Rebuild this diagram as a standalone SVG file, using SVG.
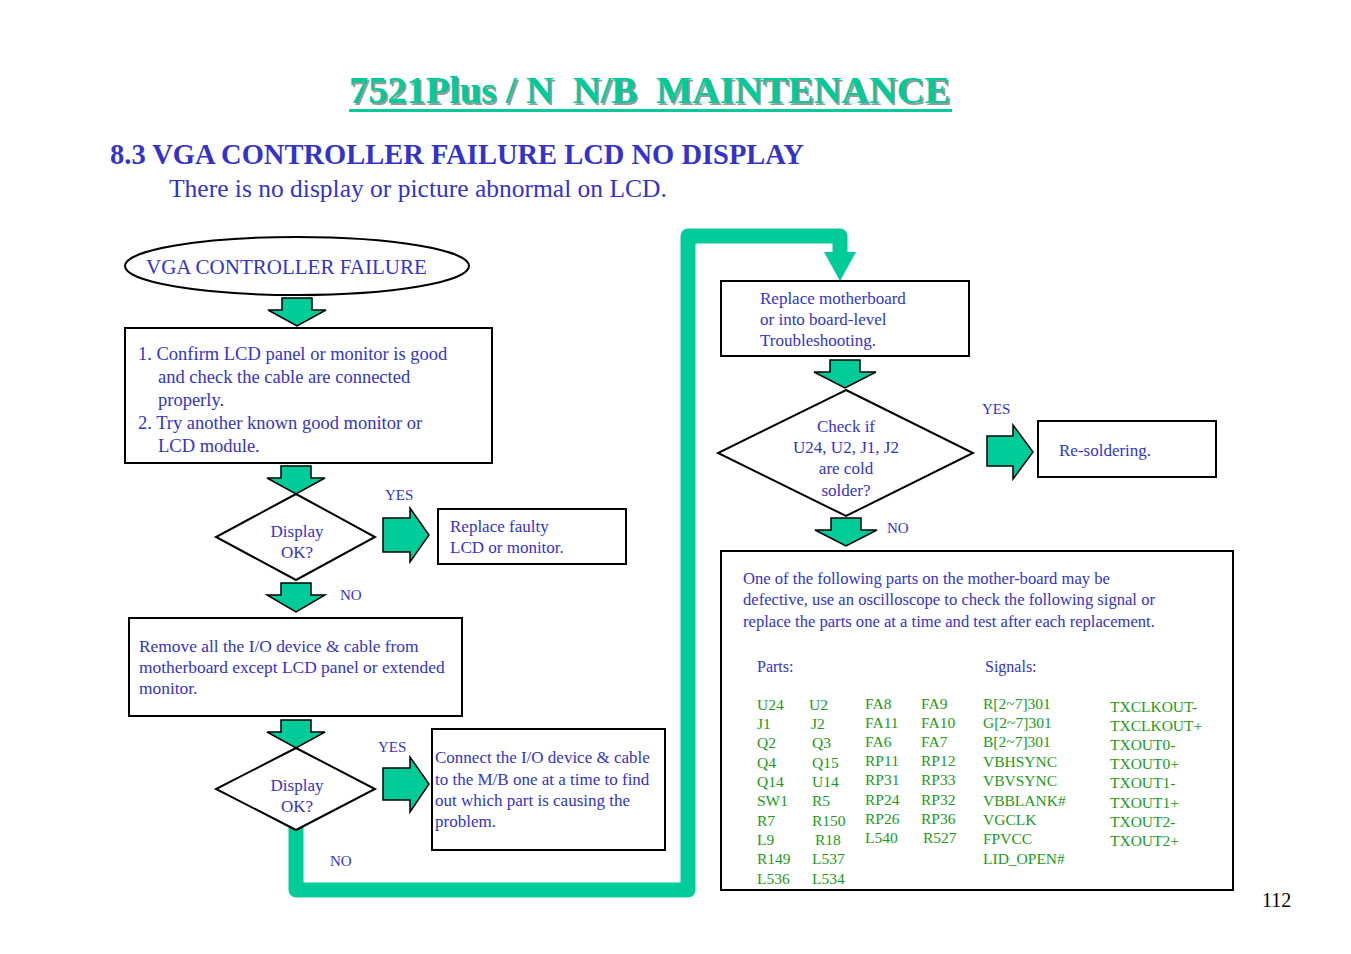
<svg xmlns="http://www.w3.org/2000/svg" width="1351" height="954" viewBox="0 0 1351 954">
<style>
text{font-family:"Liberation Serif","Times New Roman",serif;fill:#3333cc}
.t{font-size:17px}
.s{font-size:15px}
.g{font-size:15.5px;fill:#1a9a1a}
.box{fill:#fff;stroke:#000;stroke-width:2}
.ar{fill:#00cc99;stroke:#000;stroke-width:1.5}
</style>
<rect width="1351" height="954" fill="#fff"/>
<text x="351" y="105" textLength="601" lengthAdjust="spacingAndGlyphs" style="font-size:38px;font-weight:bold;fill:#999;white-space:pre" xml:space="preserve">7521Plus / N  N/B  MAINTENANCE</text>
<text x="349" y="103" textLength="601" lengthAdjust="spacingAndGlyphs" style="font-size:38px;font-weight:bold;fill:#00cc99;white-space:pre" xml:space="preserve">7521Plus / N  N/B  MAINTENANCE</text>
<rect x="349" y="109" width="603" height="3" fill="#00cc99"/>
<text x="110" y="164" style="font-size:28.5px;font-weight:bold">8.3 VGA CONTROLLER FAILURE LCD NO DISPLAY</text>
<text x="169" y="197" style="font-size:25.5px">There is no display or picture abnormal on LCD.</text>
<text x="1262" y="907" style="font-size:20px;fill:#000">112</text>
<g id="connectors">
<path d="M296 826 V890 H688 V236 H840 V258" fill="none" stroke="#00cc99" stroke-width="15" stroke-linejoin="round"/>
<polygon points="824,252 856,252 840,281" fill="#00cc99"/>
</g>
<g id="start"><ellipse cx="297" cy="266" rx="172" ry="29" class="box"/><text x="146" y="274" style="font-size:21px">VGA CONTROLLER FAILURE</text></g>
<g id="a1"><polygon class="ar" points="282,298 312,298 312,310 326,310 297,326 268,310 282,310"/></g>
<g id="step1"><rect x="125" y="328" width="367" height="135" class="box"/>
<text style="font-size:18.5px"><tspan x="138" y="360">1. Confirm LCD panel or monitor is good</tspan><tspan x="158" y="383">and check the cable are connected</tspan><tspan x="158" y="406">properly.</tspan><tspan x="138" y="429">2. Try another known good monitor or</tspan><tspan x="158" y="452">LCD module.</tspan></text></g>
<g id="a2"><polygon class="ar" points="281,466 311,466 311,478 325,478 296,494 267,478 281,478"/></g>
<g id="d1"><polygon points="296,494 375,537 296,580 216,537" class="box"/><text class="t" text-anchor="middle"><tspan x="297" y="537">Display</tspan><tspan x="297" y="558">OK?</tspan></text></g>
<text x="385" y="500" class="s">YES</text>
<g id="a3"><polygon class="ar" points="383,518 410,518 410,508 429,535 410,562 410,552 383,552"/></g>
<g id="r1"><rect x="438" y="509" width="188" height="55" class="box"/><text class="t"><tspan x="450" y="532">Replace faulty</tspan><tspan x="450" y="553">LCD or monitor.</tspan></text></g>
<g id="a4"><polygon class="ar" points="281,583 311,583 311,595 325,595 296,612 267,595 281,595"/></g>
<text x="340" y="600" class="s">NO</text>
<g id="step2"><rect x="129" y="618" width="333" height="98" class="box"/>
<text style="font-size:17.4px"><tspan x="139" y="652">Remove all the I/O device &amp; cable from</tspan><tspan x="139" y="673">motherboard except LCD panel or extended</tspan><tspan x="139" y="694">monitor.</tspan></text></g>
<g id="a5"><polygon class="ar" points="281,720 311,720 311,732 325,732 296,748 267,732 281,732"/></g>
<g id="d2"><polygon points="296,748 375,789 296,830 216,789" class="box"/><text class="t" text-anchor="middle"><tspan x="297" y="791">Display</tspan><tspan x="297" y="812">OK?</tspan></text></g>
<text x="378" y="752" class="s">YES</text>
<text x="330" y="866" class="s">NO</text>
<g id="a6"><polygon class="ar" points="383,768 410,768 410,757 429,784 410,812 410,800 383,800"/></g>
<g id="r2"><rect x="432" y="729" width="233" height="121" class="box"/>
<text class="t"><tspan x="435" y="763">Connect the I/O device &amp; cable</tspan><tspan x="435" y="785">to the M/B one at a time to find</tspan><tspan x="435" y="806">out which part is causing the</tspan><tspan x="435" y="827">problem.</tspan></text></g>
<g id="step3"><rect x="721" y="281" width="248" height="75" class="box"/>
<text class="t"><tspan x="760" y="304">Replace motherboard</tspan><tspan x="760" y="325">or into board-level</tspan><tspan x="760" y="346">Troubleshooting.</tspan></text></g>
<g id="a7"><polygon class="ar" points="830,360 860,360 860,372 876,372 845,388 814,372 830,372"/></g>
<g id="d3"><polygon points="846,390 973,453 846,516 718,453" class="box"/>
<text class="t" text-anchor="middle"><tspan x="846" y="432">Check if</tspan><tspan x="846" y="453">U24, U2, J1, J2</tspan><tspan x="846" y="474">are cold</tspan><tspan x="846" y="496">solder?</tspan></text></g>
<text x="982" y="414" class="s">YES</text>
<g id="a8"><polygon class="ar" points="987,436 1013,436 1013,425 1033,452 1013,479 1013,466 987,466"/></g>
<g id="r3"><rect x="1038" y="421" width="178" height="56" class="box"/><text x="1059" y="456" class="t">Re-soldering.</text></g>
<g id="a9"><polygon class="ar" points="831,518 861,518 861,530 877,530 846,546 815,530 831,530"/></g>
<text x="887" y="533" class="s">NO</text>
<g id="step4"><rect x="721" y="551" width="512" height="339" class="box"/>
<text style="font-size:16.6px"><tspan x="743" y="584">One of the following parts on the mother-board may be</tspan><tspan x="743" y="605">defective, use an oscilloscope to check the following signal or</tspan><tspan x="743" y="627">replace the parts one at a time and test after each replacement.</tspan></text>
<text x="757" y="672" style="font-size:16px">Parts:</text><text x="985" y="672" style="font-size:16px">Signals:</text>
<text class="g"><tspan x="757" y="710">U24</tspan><tspan x="757" y="729">J1</tspan><tspan x="757" y="748">Q2</tspan><tspan x="757" y="768">Q4</tspan><tspan x="757" y="787">Q14</tspan><tspan x="757" y="806">SW1</tspan><tspan x="757" y="826">R7</tspan><tspan x="757" y="845">L9</tspan><tspan x="757" y="864">R149</tspan><tspan x="757" y="884">L536</tspan></text>
<text class="g"><tspan x="809" y="710">U2</tspan><tspan x="811" y="729">J2</tspan><tspan x="812" y="748">Q3</tspan><tspan x="812" y="768">Q15</tspan><tspan x="812" y="787">U14</tspan><tspan x="812" y="806">R5</tspan><tspan x="812" y="826">R150</tspan><tspan x="815" y="845">R18</tspan><tspan x="812" y="864">L537</tspan><tspan x="812" y="884">L534</tspan></text>
<text class="g"><tspan x="865" y="709">FA8</tspan><tspan x="865" y="728">FA11</tspan><tspan x="865" y="747">FA6</tspan><tspan x="865" y="766">RP11</tspan><tspan x="865" y="785">RP31</tspan><tspan x="865" y="805">RP24</tspan><tspan x="865" y="824">RP26</tspan><tspan x="865" y="843">L540</tspan></text>
<text class="g"><tspan x="921" y="709">FA9</tspan><tspan x="921" y="728">FA10</tspan><tspan x="921" y="747">FA7</tspan><tspan x="921" y="766">RP12</tspan><tspan x="921" y="785">RP33</tspan><tspan x="921" y="805">RP32</tspan><tspan x="921" y="824">RP36</tspan><tspan x="923" y="843">R527</tspan></text>
<text class="g"><tspan x="983" y="709">R[2~7]301</tspan><tspan x="983" y="728">G[2~7]301</tspan><tspan x="983" y="747">B[2~7]301</tspan><tspan x="983" y="767">VBHSYNC</tspan><tspan x="983" y="786">VBVSYNC</tspan><tspan x="983" y="806">VBBLANK#</tspan><tspan x="983" y="825">VGCLK</tspan><tspan x="983" y="844">FPVCC</tspan><tspan x="983" y="864">LID_OPEN#</tspan></text>
<text class="g"><tspan x="1110" y="712">TXCLKOUT-</tspan><tspan x="1110" y="731">TXCLKOUT+</tspan><tspan x="1110" y="750">TXOUT0-</tspan><tspan x="1110" y="769">TXOUT0+</tspan><tspan x="1110" y="788">TXOUT1-</tspan><tspan x="1110" y="808">TXOUT1+</tspan><tspan x="1110" y="827">TXOUT2-</tspan><tspan x="1110" y="846">TXOUT2+</tspan></text>
</g>
</svg>
